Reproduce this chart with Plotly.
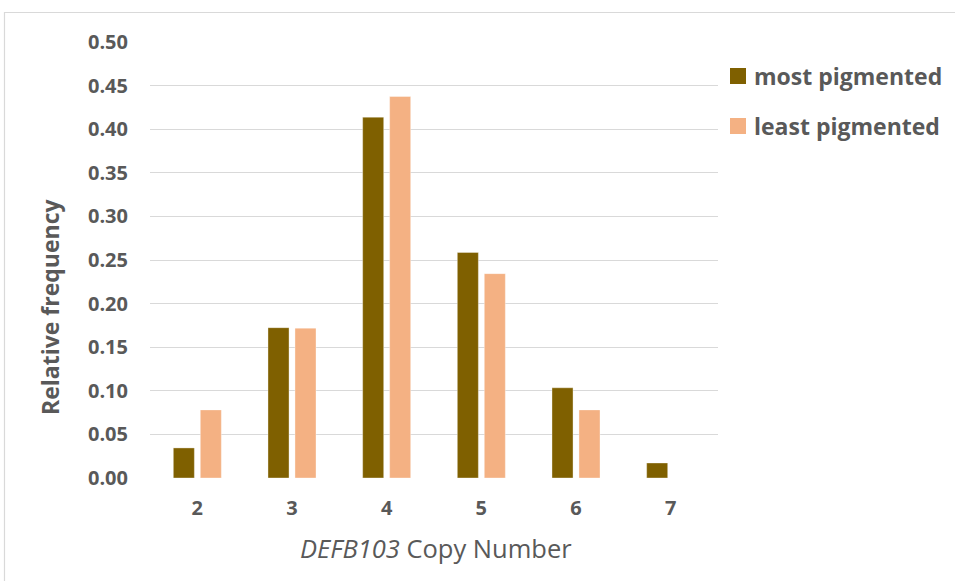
import plotly.graph_objects as go

# Relative frequency of DEFB103 copy number in the two pigmentation groups
copy_numbers = ["2", "3", "4", "5", "6", "7"]
series_names = ["most pigmented", "least pigmented"]
most_pigmented = [2 / 58, 10 / 58, 24 / 58, 15 / 58, 6 / 58, 1 / 58]
least_pigmented = [5 / 64, 11 / 64, 28 / 64, 15 / 64, 5 / 64, 0 / 64]
y_ticks = [0.00, 0.05, 0.10, 0.15, 0.20, 0.25, 0.30, 0.35, 0.40, 0.45, 0.50]

colors = ["#7F6000", "#F4B183"]
text_color = "#595959"
font_family = "Open Sans"

W, H = 955, 581
L, R, T, B = 150, 237, 42, 103
plot_w, plot_h = W - L - R, H - T - B


def px_x(px):
    return (px - L) / plot_w


def px_y(py):
    return (H - B - py) / plot_h


fig = go.Figure()
for name, values, color in zip(series_names, [most_pigmented, least_pigmented], colors):
    fig.add_trace(go.Bar(
        x=copy_numbers, y=values, name=name,
        marker=dict(color=color, line=dict(color="rgba(255,255,255,0.45)", width=0.8)),
        showlegend=False,
    ))

# Legend drawn as squares plus labels on the right
legend_rows = [76, 126]
for name, color, cy in zip(series_names, colors, legend_rows):
    fig.add_shape(type="rect", xref="paper", yref="paper",
                  x0=px_x(730), x1=px_x(746), y0=px_y(cy + 8), y1=px_y(cy - 8),
                  line=dict(width=0), fillcolor=color)
    fig.add_annotation(xref="paper", yref="paper", x=px_x(752), y=px_y(cy),
                       xanchor="left", yanchor="middle", showarrow=False,
                       text=name, font=dict(family=font_family, size=23, color=text_color,
                                            weight="bold"))

# Axis titles
fig.add_annotation(xref="paper", yref="paper", x=px_x(50), y=px_y(307),
                   xanchor="center", yanchor="middle", showarrow=False, textangle=-90,
                   text="<b>Relative frequency</b>",
                   font=dict(family=font_family, size=23, color=text_color))
fig.add_annotation(xref="paper", yref="paper", x=px_x(435.5), y=px_y(548),
                   xanchor="center", yanchor="middle", showarrow=False,
                   text="<i>DEFB103</i> Copy Number",
                   font=dict(family=font_family, size=25.5, color=text_color))

# Chart area frame
fig.add_shape(type="rect", xref="paper", yref="paper",
              x0=px_x(4.5), x1=px_x(W + 20), y0=px_y(H + 20), y1=px_y(12.5),
              line=dict(color="#D9D9D9", width=1.2), fillcolor="rgba(0,0,0,0)", layer="below")

fig.update_layout(
    width=W, height=H,
    margin=dict(l=L, r=R, t=T, b=B, pad=0),
    paper_bgcolor="white", plot_bgcolor="white",
    barmode="group", bargap=0.43, bargroupgap=0.22,
    font=dict(family=font_family, color=text_color),
)
fig.update_xaxes(
    type="category", showgrid=False, zeroline=False, showline=False, ticks="",
    tickfont=dict(family=font_family, size=20, color=text_color, weight="bold"),
    ticklabelstandoff=16,
)
fig.update_yaxes(
    range=[0, 0.5], tickvals=y_ticks, tickformat=".2f",
    showgrid=True, gridcolor="#D9D9D9", gridwidth=1.3,
    zeroline=False, showline=False, ticks="",
    tickfont=dict(family=font_family, size=20, color=text_color, weight="bold"),
    ticklabelstandoff=21,
)

fig.write_html("out.html")
